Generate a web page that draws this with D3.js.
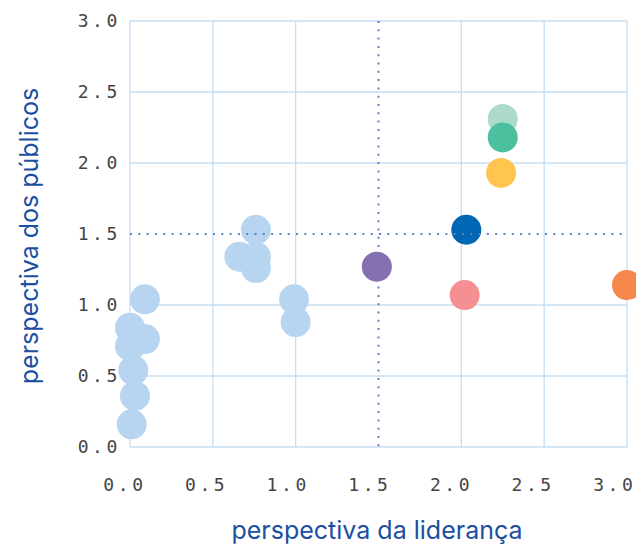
<!DOCTYPE html>
<html><head><meta charset="utf-8">
<script src="https://cdn.jsdelivr.net/npm/d3@7"></script>
<style>body{margin:0;background:#fff}svg{display:block}</style>
</head><body>
<script>
const xTicks = [0, 0.5, 1.0, 1.5, 2.0, 2.5, 3.0];
const yTicks = [0, 0.5, 1.0, 1.5, 2.0, 2.5, 3.0];
const lideranca = [0.09, 0.0, 0.09, 0.0, 0.02, 0.03, 0.01, 0.76, 0.66, 0.76, 0.76, 0.99, 1.0, 1.49, 2.03, 2.02, 2.25, 2.25, 2.24, 3.0];
const publicos  = [1.04, 0.84, 0.76, 0.71, 0.54, 0.36, 0.16, 1.53, 1.34, 1.34, 1.26, 1.04, 0.88, 1.27, 1.53, 1.07, 2.31, 2.18, 1.93, 1.14];
const colors    = ["#b7d5f0","#b7d5f0","#b7d5f0","#b7d5f0","#b7d5f0","#b7d5f0","#b7d5f0","#b7d5f0","#b7d5f0","#b7d5f0","#b7d5f0","#b7d5f0","#b7d5f0","#8571b1","#0067b4","#f68f92","#acdbca","#4cbf9e","#ffc54f","#f6874a"];
const refX = 1.5, refY = 1.5;

const W = 636, H = 544;
const svg = d3.select("body").append("svg").attr("width", W).attr("height", H);
const x = d3.scaleLinear().domain([0, 3]).range([130, 627]);
const y = d3.scaleLinear().domain([0, 3]).range([447, 21]);
const grid = "#c7def2";
const mono = "'DejaVu Sans Mono', monospace";

// grid
svg.append("g").selectAll("line").data(xTicks.filter(d => d !== refX)).join("line")
  .attr("x1", d => x(d)).attr("x2", d => x(d)).attr("y1", y(0)).attr("y2", y(3))
  .attr("stroke", grid).attr("stroke-width", 1.3);
svg.append("g").selectAll("line").data(yTicks.filter(d => d !== refY)).join("line")
  .attr("y1", d => y(d)).attr("y2", d => y(d)).attr("x1", x(0)).attr("x2", x(3))
  .attr("stroke", grid).attr("stroke-width", 1.3);

// tick labels
svg.append("g").selectAll("text").data(xTicks).join("text")
  .attr("x", d => x(d) - 5 - 2.4 * d).attr("y", 491)
  .attr("text-anchor", "middle").attr("font-family", mono).attr("font-size", 18)
  .attr("letter-spacing", 3.6).attr("fill", "#444")
  .text(d => d.toFixed(1));
svg.append("g").selectAll("text").data(yTicks).join("text")
  .attr("x", 121).attr("y", d => y(d)).attr("dy", "0.36em")
  .attr("text-anchor", "end").attr("font-family", mono).attr("font-size", 18)
  .attr("letter-spacing", 3.6).attr("fill", "#444")
  .text(d => d.toFixed(1));

// points
svg.append("g").selectAll("circle").data(lideranca.map((v, i) => i)).join("circle")
  .attr("cx", i => x(lideranca[i])).attr("cy", i => y(publicos[i])).attr("r", 15)
  .attr("fill", i => colors[i]);

// reference dotted lines
const dotted = "#5d82c8";
svg.append("line").attr("x1", x(refX)).attr("x2", x(refX)).attr("y1", y(3)).attr("y2", y(0))
  .attr("stroke", dotted).attr("stroke-width", 2).attr("stroke-dasharray", "2,6.3");
svg.append("line").attr("x1", x(0)).attr("x2", x(3)).attr("y1", y(refY)).attr("y2", y(refY))
  .attr("stroke", dotted).attr("stroke-width", 2).attr("stroke-dasharray", "2,6.3");

// axis titles
svg.append("text").attr("x", 377).attr("y", 539).attr("text-anchor", "middle")
  .attr("font-family", "Inter, sans-serif").attr("font-size", 25).attr("fill", "#1b4fa2")
  .text("perspectiva da liderança");
svg.append("text").attr("transform", "translate(38,236) rotate(-90)").attr("text-anchor", "middle")
  .attr("font-family", "Inter, sans-serif").attr("font-size", 25).attr("fill", "#1b4fa2")
  .text("perspectiva dos públicos");
</script>
</body></html>
